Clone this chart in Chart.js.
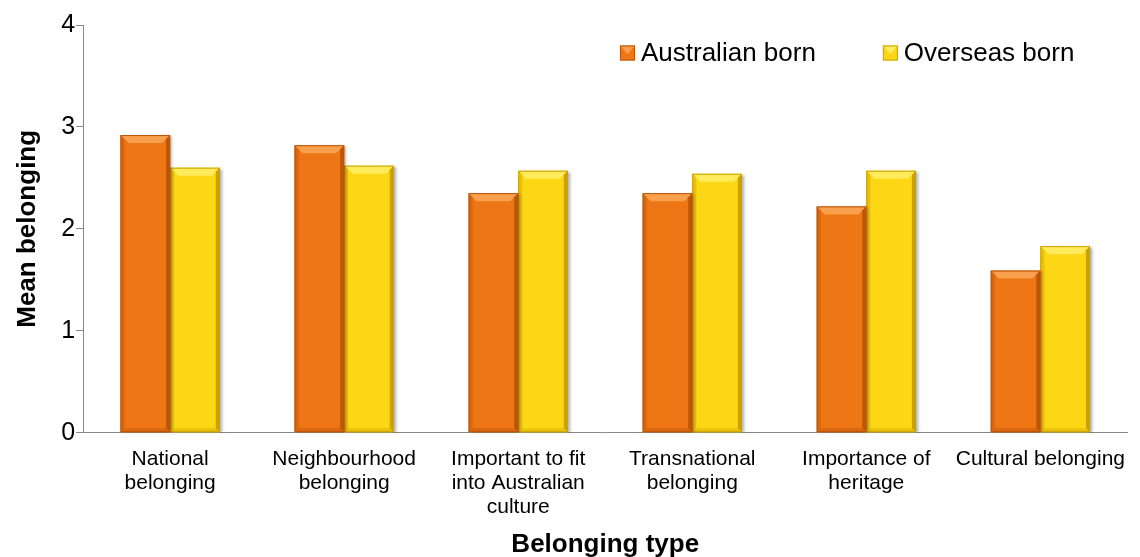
<!DOCTYPE html>
<html lang="en">
<head>
<meta charset="UTF-8">
<title>Mean belonging by belonging type</title>
<script src="https://cdn.jsdelivr.net/npm/chart.js"></script>
<style>
html, body { margin:0; padding:0; background:#fff; }
#wrap { width:1140px; height:557px; }
</style>
</head>
<body>
<div id="wrap"><canvas id="myChart"></canvas></div>
<script>
// data
const categories = [
  ['National', 'belonging'],
  ['Neighbourhood', 'belonging'],
  ['Important to fit', 'into Australian', 'culture'],
  ['Transnational', 'belonging'],
  ['Importance of', 'heritage'],
  'Cultural belonging'
];
const australianBorn = [2.92, 2.82, 2.35, 2.35, 2.22, 1.59];
const overseasBorn   = [2.60, 2.62, 2.57, 2.54, 2.57, 1.83];
const yTicks = [0, 1, 2, 3, 4];

const FONT = '"Liberation Sans", Arial, sans-serif';

// light / dark shades for the bevelled bar look
const shades = {
  '#EF7614': { light:'#F8A04E', dark:'#B8560A', side:'#D9650E' },
  '#FDD615': { light:'#FFEB5C', dark:'#C9A200', side:'#E8C10A' }
};

// drop shadow + bevel on bars
const bevelPlugin = {
  id: 'bevel',
  beforeDatasetDraw(chart) {
    const c = chart.ctx;
    c.save();
    c.shadowColor = 'rgba(0,0,0,0.35)';
    c.shadowOffsetX = 2;
    c.shadowOffsetY = 1;
    c.shadowBlur = 3;
  },
  afterDatasetDraw(chart, args) {
    const c = chart.ctx;
    c.restore();
    const ds = chart.data.datasets[args.index];
    const s = shades[ds.backgroundColor];
    args.meta.data.forEach(bar => {
      const l = bar.x - bar.width / 2, r = bar.x + bar.width / 2;
      const t = bar.y, b = bar.base, e = 8;
      const poly = (pts, col) => {
        c.beginPath();
        c.moveTo(pts[0][0], pts[0][1]);
        for (let i = 1; i < pts.length; i++) c.lineTo(pts[i][0], pts[i][1]);
        c.closePath();
        c.fillStyle = col;
        c.fill();
      };
      poly([[l, t], [r, t], [r - e, t + e], [l + e, t + e]], s.light);
      poly([[l, t], [l + e/2, t + e/2], [l + e/2, b - e/2], [l, b]], s.side);
      poly([[r, t], [r - e/2, t + e/2], [r - e/2, b - e/2], [r, b]], s.dark);
      poly([[l, b], [l + e/2, b - e/2], [r - e/2, b - e/2], [r, b]], s.side);
      c.strokeStyle = s.dark;
      c.lineWidth = 1;
      c.strokeRect(l + 0.5, t + 0.5, bar.width - 1, b - t - 1);
    });
  }
};

// legend drawn inside the plot, top right
const legendPlugin = {
  id: 'innerLegend',
  afterDraw(chart) {
    const c = chart.ctx;
    const area = chart.chartArea;
    c.save();
    c.font = '26px ' + FONT;
    c.textBaseline = 'middle';
    const box = 15, gap = 6, itemGap = 67;
    const items = chart.data.datasets.map(d => ({ text: d.label, col: d.backgroundColor, w: c.measureText(d.label).width }));
    let x = area.right - 53;
    const y = area.top + 28;
    for (let i = items.length - 1; i >= 0; i--) {
      x -= items[i].w;
      items[i].tx = x;
      x -= gap + box;
      items[i].bx = x;
      x -= itemGap;
    }
    items.forEach(it => {
      const s = shades[it.col];
      c.fillStyle = it.col;
      c.fillRect(it.bx, y - box/2, box, box);
      c.fillStyle = s.light;
      c.beginPath();
      c.moveTo(it.bx, y - box/2);
      c.lineTo(it.bx + box, y - box/2);
      c.lineTo(it.bx + box/2, y + 1);
      c.closePath();
      c.fill();
      c.strokeStyle = s.dark;
      c.strokeRect(it.bx + 0.5, y - box/2 + 0.5, box - 1, box - 1);
      c.fillStyle = '#000';
      c.fillText(it.text, it.tx, y + 1);
    });
    c.restore();
  }
};

const ctx = document.getElementById('myChart').getContext('2d');
new Chart(ctx, {
  type: 'bar',
  data: {
    labels: categories,
    datasets: [
      { label: 'Australian born', data: australianBorn, backgroundColor: '#EF7614' },
      { label: 'Overseas born', data: overseasBorn, backgroundColor: '#FDD615' }
    ]
  },
  options: {
    responsive: true,
    maintainAspectRatio: false,
    animation: false,
    layout: { padding: { top: 25, right: 12, left: 12, bottom: 0 } },
    datasets: { bar: { categoryPercentage: 0.57, barPercentage: 1 } },
    plugins: {
      legend: { display: false },
      tooltip: { enabled: false }
    },
    scales: {
      x: {
        grid: { display: false, drawTicks: false },
        border: { color: '#888', width: 1 },
        ticks: { color: '#000', font: { family: FONT, size: 21, lineHeight: 1.15 }, maxRotation: 0, autoSkip: false, padding: 14 },
        title: { display: true, text: 'Belonging type', color: '#000', font: { family: FONT, size: 26, weight: 'bold', lineHeight: 0.92 }, padding: { top: 0, bottom: 0 } }
      },
      y: {
        min: 0,
        max: 4,
        afterBuildTicks(axis) { axis.ticks = yTicks.map(v => ({ value: v })); },
        grid: { drawOnChartArea: false, color: '#888', tickLength: 7 },
        border: { color: '#888', width: 1 },
        ticks: { color: '#000', font: { family: FONT, size: 25 }, padding: 1 },
        title: { display: true, text: 'Mean belonging', color: '#000', font: { family: FONT, size: 26, weight: 'bold' }, padding: { top: 0, bottom: 17 } }
      }
    }
  },
  plugins: [bevelPlugin, legendPlugin]
});
</script>
</body>
</html>
